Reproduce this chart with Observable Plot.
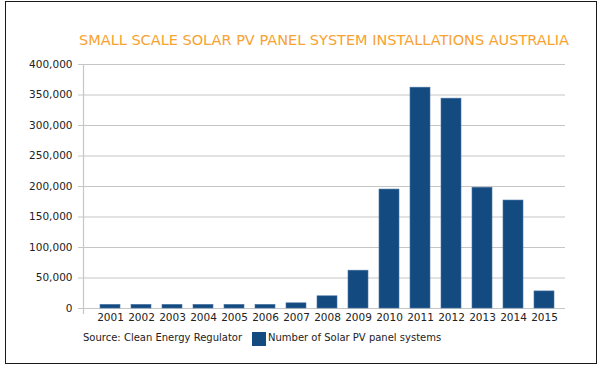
<!DOCTYPE html>
<html>
<head>
<meta charset="utf-8">
<script src="https://cdn.jsdelivr.net/npm/d3@7"></script>
<script src="https://cdn.jsdelivr.net/npm/@observablehq/plot@0.6"></script>
<style>
  html, body { margin: 0; padding: 0; background: #fff; }
  #wrap { position: relative; width: 600px; height: 365px; overflow: hidden; font-family: "DejaVu Sans", sans-serif; }
  #frame { position: absolute; left: 5px; top: 1px; width: 590px; height: 361px; border: 1.5px solid #1a1a1a; }
  #title { position: absolute; left: 0; width: 648px; top: 32px; text-align: center; color: #f7a231; font-size: 14.5px; white-space: nowrap; letter-spacing: 0px; }
  #chart { position: absolute; left: 0; top: 50px; }
  #source { position: absolute; left: 83px; top: 332px; font-size: 10px; color: #222; white-space: nowrap; }
  #swatch { position: absolute; left: 252px; top: 332px; width: 14px; height: 14px; background: #134a80; }
  #legtext { position: absolute; left: 268px; top: 332px; font-size: 10px; color: #222; white-space: nowrap; }
</style>
</head>
<body>
<div id="wrap">
  <div id="frame"></div>
  <div id="title"></div>
  <div id="chart"></div>
  <div id="source"></div>
  <div id="swatch"></div>
  <div id="legtext"></div>
</div>
<script>
const titleText = "SMALL SCALE SOLAR PV PANEL SYSTEM INSTALLATIONS AUSTRALIA";
const sourceText = "Source: Clean Energy Regulator";
const seriesName = "Number of Solar PV panel systems";
const years = ["2001","2002","2003","2004","2005","2006","2007","2008","2009","2010","2011","2012","2013","2014","2015"];
const installs = [6000, 6000, 6000, 6000, 6000, 6000, 8500, 20000, 62000, 195000, 362000, 344000, 198000, 177000, 28000];
const yTicks = [0, 50000, 100000, 150000, 200000, 250000, 300000, 350000, 400000];

document.getElementById("title").textContent = titleText;
document.getElementById("source").textContent = sourceText;
document.getElementById("legtext").textContent = seriesName;

const data = years.map((y, i) => ({year: y, value: installs[i]}));
const fmt = d3.format(",");

const plot = Plot.plot({
  width: 600,
  height: 290,
  marginTop: 14,
  marginBottom: 32,
  marginLeft: 83,
  marginRight: 35,
  style: {fontFamily: "DejaVu Sans, sans-serif", fontSize: "10.5px", color: "#222", background: "transparent"},
  x: {domain: years, paddingInner: 0.34, paddingOuter: 0.345, align: 0.6, label: null},
  y: {domain: [0, 400000], label: null},
  marks: [
    Plot.ruleY(yTicks, {stroke: "#c6c6c6", strokeWidth: 1.2}),
    Plot.frame({anchor: "left", stroke: "#c6c6c6", strokeWidth: 1.2, insetBottom: -5}),
    Plot.barY(data, {x: "year", y: "value", fill: "#134a80", stroke: "#4a75a3", strokeWidth: 0.6}),
    Plot.axisY(yTicks, {tickSize: 5, tickPadding: 6, tickFormat: fmt, stroke: "#c6c6c6", label: null}),
    Plot.axisX({tickSize: 0, tickPadding: 5, label: null})
  ]
});
document.getElementById("chart").appendChild(plot);
</script>
</body>
</html>
